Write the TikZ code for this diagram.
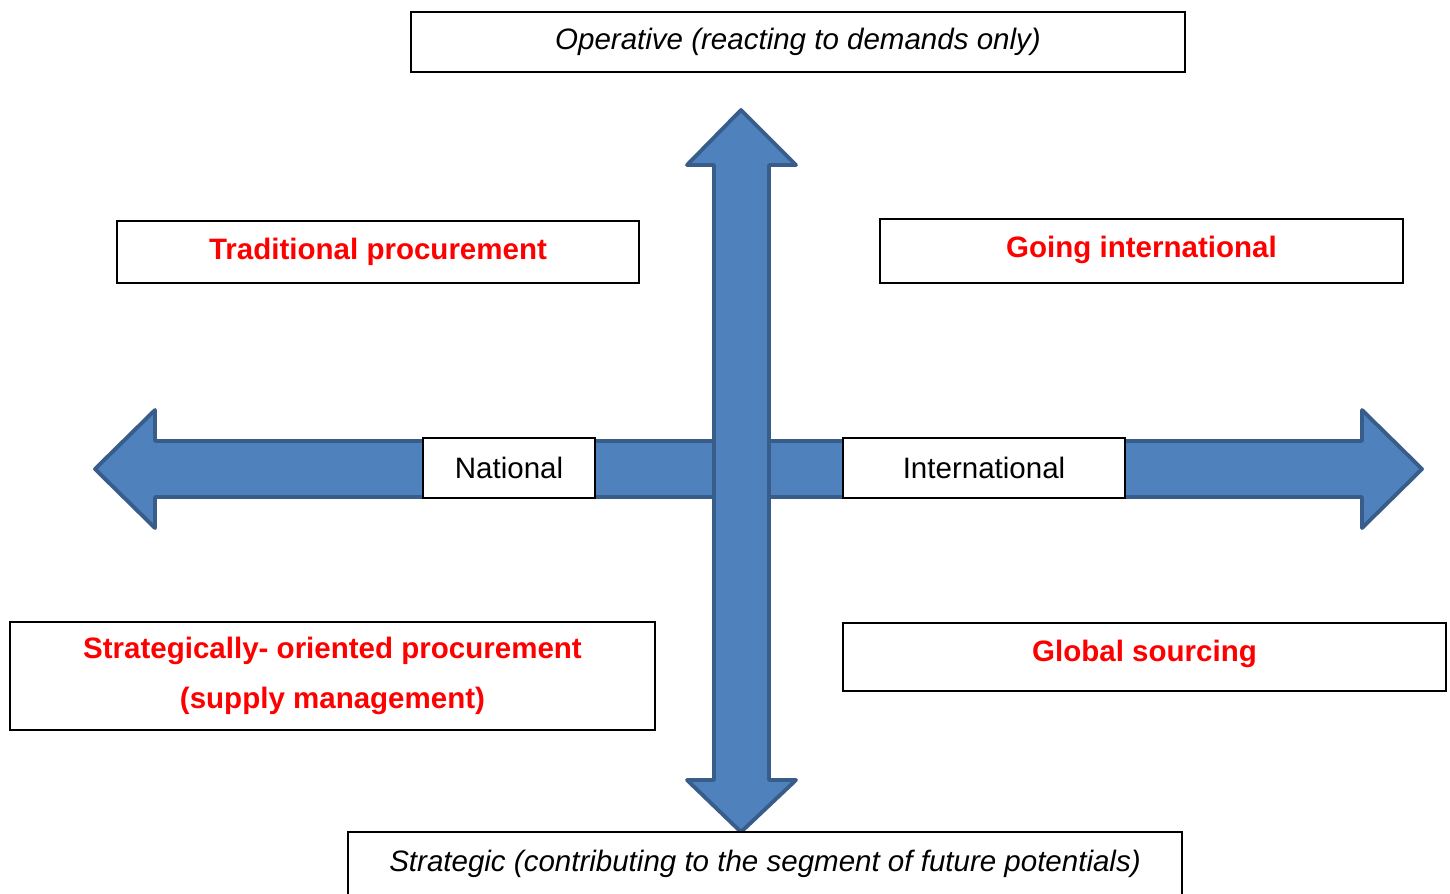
\documentclass[tikz,border=0pt]{standalone}
\usepackage{fontspec}
\setmainfont{Liberation Sans}
\usepackage{xcolor}
\usepackage{tikz}

\definecolor{arrowfill}{HTML}{4F81BD}
\definecolor{arrowline}{HTML}{385D8A}

\begin{document}
\begin{tikzpicture}[x=0.02cm, y=-0.02cm, thick,
    main/.style = {draw, fill=white, line width=1.1pt, inner sep=0pt, font=\fontsize{16.8}{20}\selectfont},
    quad/.style = {main, text=red, font=\fontsize{16.8}{28.3}\selectfont\bfseries},
    big/.style  = {fill=arrowfill, draw=arrowline, line width=2.2pt, line join=round}]
    \useasboundingbox (0,0) rectangle (1450,893);

    % horizontal arrow
    \draw[big] (95,469) -- (155,410) -- (155,441) -- (1362,441) -- (1362,410) -- (1422,469)
        -- (1362,528) -- (1362,497) -- (155,497) -- (155,528) -- cycle;
    % vertical arrow
    \draw[big] (741,110) -- (796,165) -- (769,165) -- (769,780) -- (796,780) -- (741,832)
        -- (687,780) -- (714,780) -- (714,165) -- (687,165) -- cycle;

    \node[main] (oper) at (798,42)    [minimum width=15.48cm, minimum height=1.2cm] {\itshape Operative (reacting to demands only)};
    \node[main] (strg) at (765,864)   [minimum width=16.68cm, minimum height=1.28cm] {\itshape Strategic (contributing to the segment of future potentials)};
    \node[main] (natl) at (509,468)   [minimum width=3.44cm,  minimum height=1.2cm] {National};
    \node[main] (intl) at (984,468)   [minimum width=5.64cm,  minimum height=1.2cm] {International};

    \node[quad] (trad)  at (378,252)    [minimum width=10.44cm, minimum height=1.24cm] {Traditional procurement};
    \node[quad] (going) at (1141.5,251) [minimum width=10.46cm, minimum height=1.28cm, text depth=4.5pt] {Going international};
    \node[quad] (strat) at (332.5,676)  [minimum width=12.9cm,  minimum height=2.16cm, align=center] {Strategically- oriented procurement\\(supply management)};
    \node[quad] (glob)  at (1144.5,657) [minimum width=12.06cm, minimum height=1.36cm, text depth=6.6pt] {Global sourcing};

\end{tikzpicture}
\end{document}
